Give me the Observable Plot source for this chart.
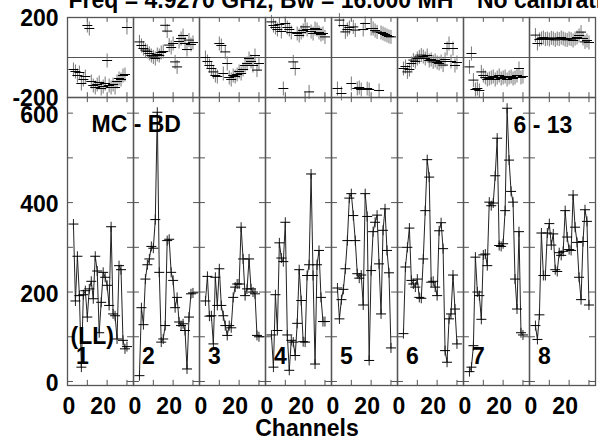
<!DOCTYPE html>
<html><head><meta charset="utf-8">
<script src="https://cdn.jsdelivr.net/npm/d3@7"></script>
<script src="https://cdn.jsdelivr.net/npm/@observablehq/plot@0.6"></script>
<style>
html,body{margin:0;padding:0;overflow:hidden;background:white;}
#wrap{position:relative;width:598px;height:440px;overflow:hidden;}
#wrap svg{position:absolute;left:0;top:0;}
#xlabel{position:absolute;left:207px;width:200px;top:417px;text-align:center;font:bold 23px "Liberation Sans",Arial,sans-serif;line-height:23px;z-index:2;}
</style></head><body>
<div id="wrap"><div id="xlabel">Channels</div></div>
<script>
const titleText = "Freq = 4.9270 GHz, Bw = 16.000 MH\"  No calibration";
const panels = [1, 2, 3, 4, 5, 6, 7, 8];
const channels = [3,4,5,6,7,8,9,10,11,12,13,14,15,16,17,18,19,20,21,22,23,24,25,26,27,28,29,30];
const ampTicks = [0, 100, 200, 300, 400, 500, 600];
const ampLabels = [0, 200, 400, 600];
const phaseLabels = [-200, 200];
const chanTicks = [10, 20, 30];

const amp1 = [352,180,280,192,32,194,203,144,207,224,185,280,247,109,177,244,233,215,170,346,151,147,95,259,250,92,73,78];
const amp2 = [13,165,127,229,261,274,302,298,362,602,244,88,95,125,315,318,244,226,165,188,133,125,129,114,28,144,196,198];
const amp3 = [180,235,146,147,84,233,170,252,170,147,125,103,125,120,188,211,218,218,345,274,192,207,274,207,200,196,103,100];
const amp4 = [104,32,194,114,310,276,268,356,104,25,92,88,58,130,250,181,89,88,237,261,464,237,39,261,293,188,134,134];
const amp5 = [209,140,183,206,252,315,410,420,371,315,241,231,238,171,420,369,47,248,335,356,372,263,151,338,386,293,243,75];
const amp6 = [107,256,300,343,226,218,211,229,188,186,274,382,496,457,222,224,211,192,337,355,297,69,43,140,151,238,162,84];
const amp7 = [22,32,80,278,200,192,139,283,285,259,401,393,399,460,544,304,302,308,382,611,495,425,401,229,162,335,109,104];
const amp8 = [125,94,149,332,237,237,332,353,305,330,250,246,288,282,291,382,323,295,293,417,345,311,233,183,313,384,358,171];

const ph1 = [-60,-70,-90,-75,-130,-110,-95,160,145,-120,-140,-150,-135,-125,-155,-145,-130,-15,-140,-150,-135,-150,-120,-105,-110,-90,-85,150];
const ph2 = [78,60,45,37,30,20,10,3,-5,15,10,25,30,161,132,62,50,70,-22,-47,80,95,110,70,40,87,65,75];
const ph3 = [0,-20,-40,-55,-72,-90,-95,70,60,-80,28,-30,-100,-110,-90,-95,-85,-70,-80,-60,-40,-30,-5,-20,-40,10,-63,-30];
const ph4 = [178,160,150,140,165,130,-155,170,150,140,125,-22,-55,120,110,125,135,153,140,-172,130,120,145,140,125,115,120,103];
const ph5 = [-155,187,-180,160,128,140,150,-130,153,137,-155,-150,-160,140,170,-155,-160,145,145,135,128,-165,125,120,115,110,105,103];
const ph6 = [-55,-45,-72,-60,-30,-13,-20,-5,3,12,5,-5,10,-15,-10,-22,-15,-25,-30,-20,-38,-10,45,70,-20,45,-40,-25];
const ph7 = [-47,20,-113,-160,-155,-165,-72,-90,-100,-110,-105,-100,-95,-110,-100,-90,-105,-100,-95,-110,-100,-95,-105,-100,-90,-55,-100,-95];
const ph8 = [112,70,90,95,100,92,95,90,98,95,88,95,92,100,95,90,88,95,92,85,95,100,110,127,95,78,85,75];

const ampSeries = [amp1, amp2, amp3, amp4, amp5, amp6, amp7, amp8];
const phSeries = [ph1, ph2, ph3, ph4, ph5, ph6, ph7, ph8];

const rows = panels.flatMap((p, i) => channels.map((c, j) => ({panel: p, ch: c, amp: ampSeries[i][j], ph: phSeries[i][j]})));

const hbar = {draw(ctx, size) { const r = Math.sqrt(size / Math.PI); ctx.moveTo(-r, 0); ctx.lineTo(r, 0); }};
const vbar = {draw(ctx, size) { const r = Math.sqrt(size / Math.PI); ctx.moveTo(0, -r); ctx.lineTo(0, r); }};

const FONT = '"Liberation Sans", Arial, sans-serif';
const common = {
  width: 598, height: 440, marginLeft: 64, marginRight: 1,
  fx: {domain: panels, padding: 0, axis: null, label: null},
  x: {domain: [0, 33.3], axis: null, label: null},
  style: {background: "transparent", overflow: "visible", fontFamily: FONT, fontSize: "23px", fontWeight: "bold", color: "black"}
};
const frameColor = "#555";

const phasePlot = Plot.plot({
  ...common,
  marginTop: 17, marginBottom: 343,
  y: {domain: [-200, 200], label: null},
  marks: [
    Plot.ruleY([0], {stroke: frameColor, strokeWidth: 1.2}),
    Plot.ruleX(chanTicks, {y1: -200, y2: -176, stroke: frameColor}),
    Plot.ruleX(chanTicks, {y1: 200, y2: 176, stroke: frameColor}),
    Plot.dot(rows, {fx: "panel", x: "ch", y: "ph", symbol: vbar, r: 7, stroke: "#777", fill: "none", strokeWidth: 1}),
    Plot.dot(rows, {fx: "panel", x: "ch", y: "ph", symbol: hbar, r: 5, stroke: "black", fill: "none", strokeWidth: 1}),
    Plot.frame({stroke: frameColor, strokeWidth: 1.3}),
    Plot.axisY({ticks: phaseLabels, tickSize: 0, tickPadding: 9, tickFormat: d => String(d), dy: 1, label: null}),
    Plot.text([titleText], {fx: [1], frameAnchor: "top-left", dx: 1, dy: -10, lineAnchor: "bottom", textAnchor: "start"})
  ]
});

const ampPlot = Plot.plot({
  ...common,
  marginTop: 97, marginBottom: 55,
  y: {domain: [-9, 635], label: null},
  marks: [
    Plot.ruleY(ampTicks, {x1: 0, x2: 3, stroke: frameColor}),
    Plot.ruleY(ampTicks, {x1: 30.3, x2: 33.3, stroke: frameColor}),
    Plot.ruleX(chanTicks, {y1: -9, y2: 2.5, stroke: frameColor}),
    Plot.ruleX(chanTicks, {y1: 635, y2: 623.5, stroke: frameColor}),
    Plot.line(rows, {fx: "panel", x: "ch", y: "amp", stroke: "#222", strokeWidth: 1}),
    Plot.dot(rows, {fx: "panel", x: "ch", y: "amp", symbol: vbar, r: 5, stroke: "#222", fill: "none", strokeWidth: 1}),
    Plot.dot(rows, {fx: "panel", x: "ch", y: "amp", symbol: hbar, r: 5, stroke: "black", fill: "none", strokeWidth: 1}),
    Plot.frame({stroke: frameColor, strokeWidth: 1.3}),
    Plot.axisY({ticks: ampLabels, tickSize: 0, tickPadding: 9, tickFormat: d => String(d), dy: 2.5, label: null}),
    Plot.text([0], {x: d => d, frameAnchor: "bottom", dy: 28, dx: 1.5, lineAnchor: "bottom", textAnchor: "middle", text: d => String(d)}),
    Plot.text([20], {x: d => d, frameAnchor: "bottom", dy: 28, dx: -4, lineAnchor: "bottom", textAnchor: "middle", text: d => String(d)}),
    Plot.text(panels, {fx: d => d, text: d => String(d), frameAnchor: "bottom-left", dx: 15, dy: -22, lineAnchor: "bottom", textAnchor: "middle"}),
    Plot.text(["(LL)"], {fx: [1], frameAnchor: "bottom-left", dx: 3, dy: -42, lineAnchor: "bottom", textAnchor: "start"}),
    Plot.text(["MC - BD"], {fx: [1], frameAnchor: "top-left", dx: 24, dy: 34, lineAnchor: "bottom", textAnchor: "start"}),
    Plot.text(["6 - 13"], {fx: [7], frameAnchor: "top-left", dx: 50, dy: 35, lineAnchor: "bottom", textAnchor: "start"})
  ]
});

const wrap = document.getElementById("wrap");
wrap.insertBefore(ampPlot, wrap.firstChild);
wrap.insertBefore(phasePlot, wrap.firstChild);
</script></body></html>
